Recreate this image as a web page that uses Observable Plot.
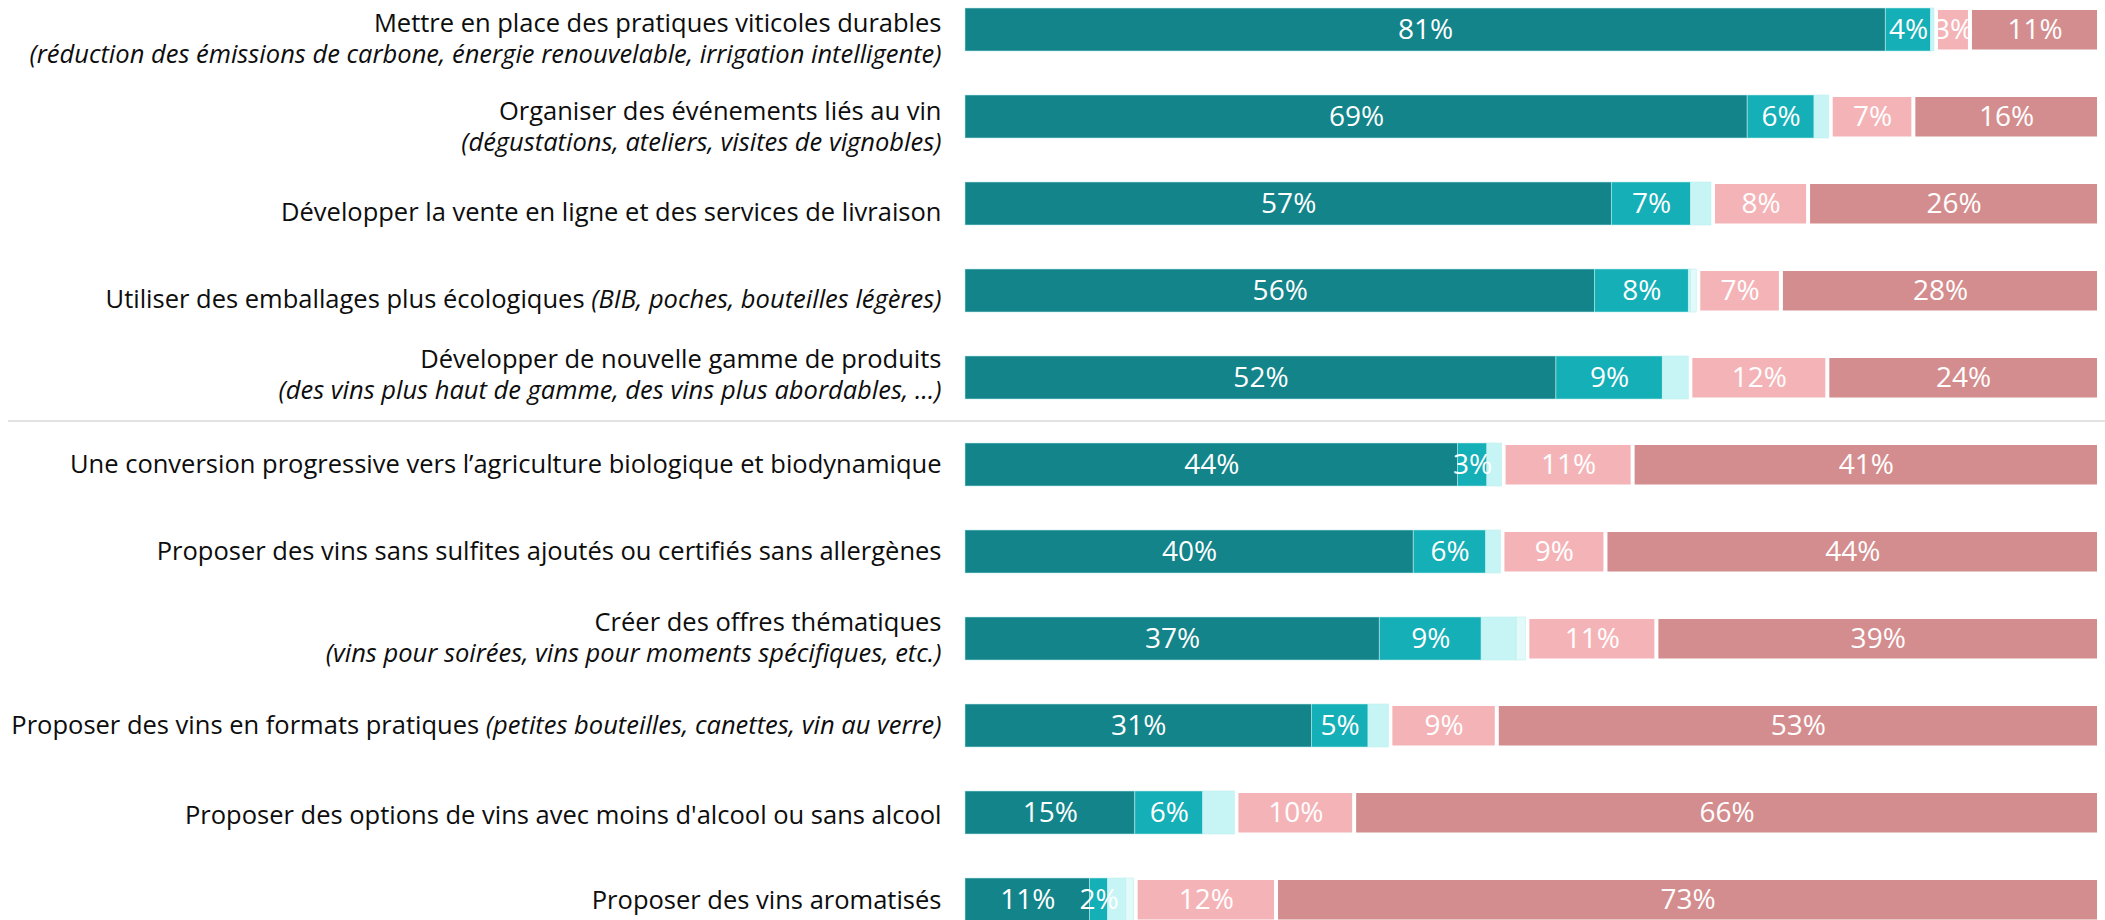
<!DOCTYPE html>
<html>
<head>
<meta charset="utf-8">
<script src="https://cdn.jsdelivr.net/npm/d3@7"></script>
<script src="https://cdn.jsdelivr.net/npm/@observablehq/plot@0.6"></script>
<style>
  html, body { margin: 0; padding: 0; background: #fff; overflow: hidden; }
  #chart svg { display: block; }
</style>
</head>
<body>
<div id="chart"></div>
<script>
// ---------- DATA ----------
const items = [
  "Mettre en place des pratiques viticoles durables",
  "Organiser des événements liés au vin",
  "Développer la vente en ligne et des services de livraison",
  "Utiliser des emballages plus écologiques",
  "Développer de nouvelle gamme de produits",
  "Une conversion progressive vers l’agriculture biologique et biodynamique",
  "Proposer des vins sans sulfites ajoutés ou certifiés sans allergènes",
  "Créer des offres thématiques",
  "Proposer des vins en formats pratiques",
  "Proposer des options de vins avec moins d'alcool ou sans alcool",
  "Proposer des vins aromatisés"
];
const subtitles = [
  "(réduction des émissions de carbone, énergie renouvelable, irrigation intelligente)",
  "(dégustations, ateliers, visites de vignobles)",
  "",
  "(BIB, poches, bouteilles légères)",
  "(des vins plus haut de gamme, des vins plus abordables, …)",
  "",
  "",
  "(vins pour soirées, vins pour moments spécifiques, etc.)",
  "(petites bouteilles, canettes, vin au verre)",
  "",
  ""
];
// subtitle on the same line as the label (true) or on a second line (false)
const subtitleInline = [false, false, false, true, false, false, false, false, true, false, false];

const series = ["s1", "s2", "s3", "s4", "s5", "s6"];
const s1 = [81.3, 69.1, 57.1, 55.6, 52.2, 43.5, 39.6, 36.6, 30.6, 15.0, 11.0];
const s2 = [4.0, 5.9, 7.0, 8.3, 9.4, 2.6, 6.4, 9.0, 5.0, 6.0, 1.6];
const s3 = [0.3, 1.3, 1.8, 0.2, 2.3, 1.3, 1.3, 3.1, 1.8, 2.8, 1.6];
const s4 = [0.0, 0.0, 0.0, 0.5, 0.0, 0.0, 0.0, 0.8, 0.0, 0.0, 0.7];
const s5 = [3.0, 7.3, 8.4, 7.3, 12.1, 11.4, 9.1, 11.4, 9.4, 10.4, 12.4];
const s6 = [11.4, 16.4, 25.7, 28.1, 24.0, 41.2, 43.6, 39.1, 53.2, 65.8, 72.7];
const labelled = ["s1", "s2", "s5", "s6"];
const separatorBefore = "Une conversion progressive vers l’agriculture biologique et biodynamique";

// ---------- STYLE ----------
const colors = ["#12848a", "#14afb7", "#c7f5f6", "#e3fafa", "#f4b4b7", "#d48d8e"];
const labelFont = "'Open Sans', 'Noto Sans', sans-serif";
// vertical placement of label lines per row (px relative to bar centre)
const lineLayout = [
  [-6, 25], [-5, 26], [9, null], [9, null], [-18, 13], [0, null],
  [0, null], [-16, 15], [0, null], [3, null], [1, null]
];

// ---------- TABLE ----------
const allSeries = [s1, s2, s3, s4, s5, s6];
const table = [];
items.forEach((item, i) => {
  let acc = 0;
  series.forEach((s, k) => {
    const v = allSeries[k][i];
    table.push({item, series: s, value: v, x1: acc, x2: acc + v, group: k < 4 ? "pos" : "neg"});
    acc += v;
  });
});
const rows = items.map((item, i) => ({item, sub: subtitles[i], inline: subtitleInline[i], layout: lineLayout[i]}));

const layoutGroups = d3.groups(rows, r => r.layout.join(","));

const labelMarks = [];
layoutGroups.forEach(([key, rs]) => {
  const [d1, d2] = rs[0].layout;
  labelMarks.push(Plot.text(rs, {
    y: "item", text: "item", frameAnchor: "left", textAnchor: "end", dx: -24, dy: d1,
    fontSize: 25.5, fill: "#0d0d0d", ariaLabel: "label " + key
  }));
  const second = rs.filter(r => !r.inline && r.sub);
  if (d2 !== null && second.length) {
    labelMarks.push(Plot.text(second, {
      y: "item", text: "sub", frameAnchor: "left", textAnchor: "end", dx: -24, dy: d2,
      fontSize: 25.5, fontStyle: "italic", fill: "#0d0d0d"
    }));
  }
});

const chart = Plot.plot({
  width: 2105,
  height: 926,
  marginLeft: 965,
  marginRight: 8,
  marginTop: 4,
  marginBottom: 2,
  style: {fontFamily: labelFont, background: "#fff"},
  x: {domain: [0, 100], axis: null},
  y: {domain: items, axis: null, paddingInner: 0.51, paddingOuter: 0},
  color: {domain: series, range: colors},
  marks: [
    Plot.ruleY([separatorBefore], {y: d => d, dy: -44, insetLeft: -957, insetRight: -8, stroke: "#e2e2e2", strokeWidth: 2}),
    Plot.barX(table.filter(d => d.group === "pos"), {
      x1: "x1", x2: "x2", y: "item", fill: "series",
      stroke: "#bfeeee", strokeWidth: 0.8, strokeOpacity: 0.7
    }),
    Plot.barX(table.filter(d => d.group === "neg"), {
      x1: "x1", x2: "x2", y: "item", fill: "series",
      insetLeft: 4, insetTop: 2, insetBottom: 1.5
    }),
    Plot.text(table.filter(d => labelled.includes(d.series) && d.group === "pos"), {
      x: d => (d.x1 + d.x2) / 2, y: "item", text: d => Math.round(d.value) + "%",
      fill: "white", fontSize: 28
    }),
    Plot.text(table.filter(d => labelled.includes(d.series) && d.group === "neg"), {
      x: d => (d.x1 + d.x2) / 2, y: "item", text: d => Math.round(d.value) + "%",
      fill: "white", fontSize: 28, dx: 2
    }),
    ...labelMarks
  ]
});

// inline italic subtitles
d3.select(chart).selectAll("text").each(function() {
  const t = this.textContent;
  const i = items.indexOf(t);
  if (i >= 0 && subtitleInline[i] && subtitles[i]) {
    d3.select(this).append("tspan").attr("font-style", "italic").text("\u00a0" + subtitles[i]);
  }
});

document.getElementById("chart").appendChild(chart);
</script>
</body>
</html>
